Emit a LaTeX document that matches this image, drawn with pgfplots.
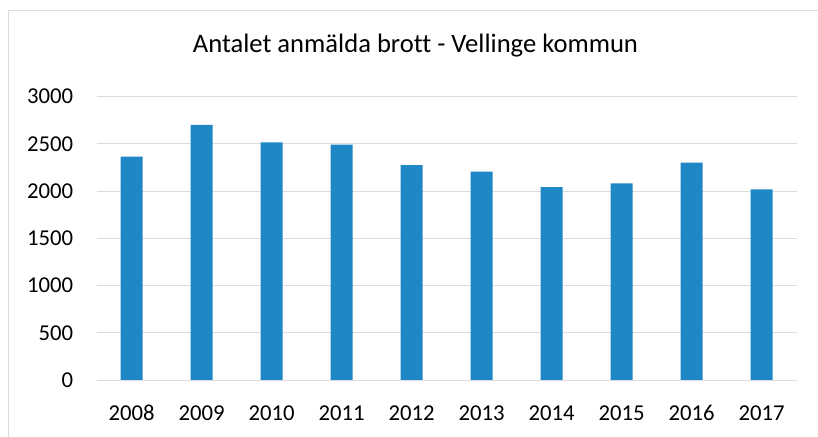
\documentclass[border=0pt]{standalone}
\usepackage{pgfplots}
\pgfplotsset{compat=1.18}
\usepackage{fontspec}
\setmainfont{Carlito}[Ligatures={NoCommon}]
\definecolor{barblue}{HTML}{1F87C6}
\definecolor{gridgray}{HTML}{DCDCDC}
\begin{document}
\begin{tikzpicture}
\useasboundingbox (0,0) rectangle (818bp,437bp);
\fill[white] (0,0) rectangle (818bp,437bp);
\draw[gridgray, line width=0.8bp] (8bp,0) -- (8bp,427bp) -- (818bp,427bp);
\begin{axis}[
  at={(96.7bp,57bp)}, anchor=south west,
  scale only axis, width=700bp, height=283.5bp,
  xmin=-0.5, xmax=9.5, ymin=0, ymax=3000,
  ytick={0,500,1000,1500,2000,2500,3000},
  xtick={0,1,2,3,4,5,6,7,8,9},
  xticklabels={2008,2009,2010,2011,2012,2013,2014,2015,2016,2017},
  axis line style={draw=none},
  major tick length=0pt,
  ymajorgrids, grid style={gridgray, line width=0.9bp},
  /pgf/number format/assume math mode=true,
  /pgf/number format/1000 sep={},
  yticklabel style={anchor=east, inner sep=0pt, xshift=-23.4bp, font=\fontsize{22.8}{27}\selectfont},
  xticklabel style={anchor=base, inner sep=0pt, yshift=-40.7bp, font=\fontsize{22.8}{27}\selectfont},
  title={Antalet anmälda brott - Vellinge kommun},
  title style={at={(0.4554,1)}, anchor=base, inner sep=0pt, yshift=38.5bp, font=\fontsize{26.7}{31}\selectfont},
  ybar, bar width=22bp,
]
\addplot[fill=barblue, draw=none, bar shift=0pt] coordinates {
 (0,2365) (1,2700) (2,2515) (3,2490) (4,2275) (5,2205) (6,2042) (7,2080) (8,2300) (9,2017)
};
\end{axis}
\end{tikzpicture}
\end{document}
